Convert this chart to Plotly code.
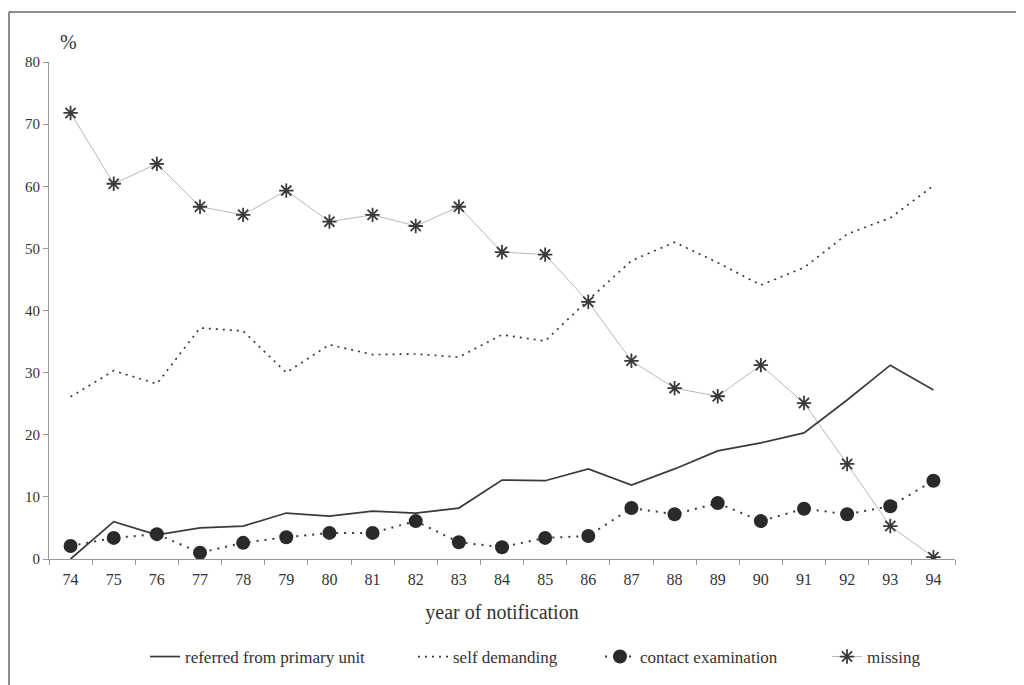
import plotly.graph_objects as go

years = ["74", "75", "76", "77", "78", "79", "80", "81", "82", "83", "84",
         "85", "86", "87", "88", "89", "90", "91", "92", "93", "94"]

referred = [0.0, 6.0, 3.9, 5.0, 5.3, 7.4, 6.9, 7.7, 7.4, 8.2, 12.7,
            12.6, 14.5, 11.9, 14.5, 17.4, 18.7, 20.3, 25.6, 31.2, 27.2]
self_demanding = [26.1, 30.3, 28.2, 37.2, 36.7, 30.0, 34.5, 32.9, 33.0, 32.5, 36.1,
                  35.1, 41.7, 48.0, 51.0, 47.7, 44.1, 46.9, 52.3, 54.9, 60.1]
contact = [2.1, 3.4, 4.0, 1.0, 2.6, 3.5, 4.2, 4.2, 6.1, 2.7, 1.9,
           3.4, 3.7, 8.2, 7.2, 9.0, 6.1, 8.1, 7.2, 8.5, 12.6]
missing = [71.8, 60.4, 63.6, 56.7, 55.4, 59.3, 54.3, 55.4, 53.6, 56.7, 49.4,
           49.0, 41.4, 31.9, 27.5, 26.2, 31.2, 25.1, 15.3, 5.3, 0.3]

y_ticks = [0, 10, 20, 30, 40, 50, 60, 70, 80]

FONT = "Liberation Serif, Times New Roman, serif"
DARK = "#3a3a3a"

fig = go.Figure()

fig.add_trace(go.Scatter(
    x=years, y=missing, name="missing", mode="lines+markers",
    line=dict(color="#b8b8b8", width=1),
    marker=dict(symbol="asterisk-open", size=12, color=DARK,
                line=dict(color=DARK, width=1.8)),
    legend="legend4"))

fig.add_trace(go.Scatter(
    x=years, y=self_demanding, name="self demanding", mode="lines",
    line=dict(color=DARK, width=1.7, dash="2px,5px"),
    legend="legend2"))

fig.add_trace(go.Scatter(
    x=years, y=referred, name="referred from primary unit", mode="lines",
    line=dict(color=DARK, width=1.7),
    legend="legend"))

fig.add_trace(go.Scatter(
    x=years, y=contact, name="contact examination", mode="lines+markers",
    line=dict(color=DARK, width=2, dash="2px,6px"),
    marker=dict(symbol="circle", size=14, color="#2a2a2a"),
    legend="legend3"))

# plot-area edges in screenshot pixels; page body adds an 8px offset
OFF = 8
L, R, T, B = 49, 955, 62, 559
W, H = 1024, 685


def px_x(p):
    return (p - L) / (R - L)


def px_y(p):
    return (B - p) / (B - T)


leg_common = dict(orientation="h", yanchor="middle", xanchor="left",
                  y=px_y(657), font=dict(family=FONT, size=17, color="#333"),
                  bgcolor="rgba(0,0,0,0)", itemwidth=30)

fig.update_layout(
    width=W, height=H,
    margin=dict(l=L - OFF, r=W - R + OFF, t=T - OFF, b=H - B + OFF),
    paper_bgcolor="white", plot_bgcolor="white",
    showlegend=True,
    font=dict(family=FONT, size=15, color="#333"),
    legend=dict(x=px_x(145), **leg_common),
    legend2=dict(x=px_x(413), **leg_common),
    legend3=dict(x=px_x(600), **leg_common),
    legend4=dict(x=px_x(827), **leg_common),
    xaxis=dict(type="category", range=[-0.5, len(years) - 0.5],
               tickson="boundaries", ticks="outside", ticklen=5,
               tickcolor="#999", showline=True, linecolor="#999", linewidth=1,
               showgrid=False, zeroline=False, ticklabelstandoff=6,
               tickfont=dict(family=FONT, size=16, color="#333"),
               title=dict(text="year of notification", standoff=17,
                          font=dict(family=FONT, size=20, color="#333"))),
    yaxis=dict(range=[0, 80], tickvals=y_ticks, ticks="outside", ticklen=5,
               tickcolor="#999", showline=True, linecolor="#999", linewidth=1,
               showgrid=False, zeroline=False,
               tickfont=dict(family=FONT, size=15, color="#333")),
    annotations=[dict(text="%", xref="paper", yref="paper",
                      x=px_x(68), y=px_y(42), xanchor="center", yanchor="middle",
                      showarrow=False,
                      font=dict(family=FONT, size=20, color="#333"))],
    shapes=[
        dict(type="line", xref="paper", yref="paper",
             x0=px_x(9), x1=px_x(1040), y0=px_y(12), y1=px_y(12),
             line=dict(color="#666", width=1.5)),
        dict(type="line", xref="paper", yref="paper",
             x0=px_x(9), x1=px_x(9), y0=px_y(12), y1=px_y(700),
             line=dict(color="#666", width=1.5)),
    ],
)

fig.write_html("out.html")
